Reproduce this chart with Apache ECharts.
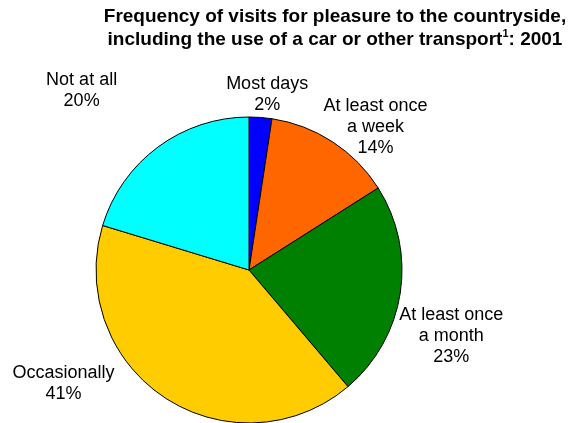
<!DOCTYPE html>
<html>
<head>
<meta charset="utf-8">
<title>Countryside visits 2001</title>
<script src="https://cdn.jsdelivr.net/npm/echarts@6/dist/echarts.min.js"></script>
<style>
	html,body{margin:0;padding:0;background:#fff;}
	#chart{width:580px;height:423px;}
</style>
</head>
<body>
<div id="chart"></div>
<script>
// slices clockwise from 12 o'clock
var categories = ['Most days', 'At least once\na week', 'At least once\na month', 'Occasionally', 'Not at all'];
var percents = [2.4, 13.6, 22.8, 40.9, 20.3];
var colours = ['#0000ff', '#ff6600', '#008000', '#ffcc00', '#00ffff'];

// nudges of each label from where echarts puts it (Excel style placement)
var labelShift = [[-40, -15], [-47, -37], [-9, 42], [-41, -17], [-31, -50]];

var myChart = echarts.init(document.getElementById('chart'));

var pieData = [];
for (var i = 0; i < categories.length; i++) {
	pieData.push({name: categories[i], value: percents[i], itemStyle: {color: colours[i]}});
}

var option = {
	animation: false,
	title: {
		text: '{t|Frequency of visits for pleasure to the countryside,}\n{t|including the use of a car or other transport}{s|1}{t|: 2001}',
		left: 335,
		top: 5,
		padding: 0,
		textAlign: 'center',
		textStyle: {
			rich: {
				t: {fontFamily: 'Liberation Sans, Arial', fontWeight: 'bold', fontSize: 19, lineHeight: 23, color: '#000'},
				s: {fontFamily: 'Liberation Sans, Arial', fontWeight: 'bold', fontSize: 11, lineHeight: 23, verticalAlign: 'top', padding: [0, 0, 9, 0], color: '#000'}
			}
		}
	},
	series: [{
		type: 'pie',
		center: [249, 270],
		radius: 153,
		startAngle: 90,
		clockwise: true,
		data: pieData,
		itemStyle: {borderColor: '#000', borderWidth: 1},
		label: {
			show: true,
			position: 'outside',
			formatter: function (p) { return p.name + '\n' + Math.round(p.value) + '%'; },
			fontFamily: 'Liberation Sans, Arial',
			fontSize: 18,
			lineHeight: 21,
			color: '#000'
		},
		labelLine: {show: false, length: 8, length2: 0},
		labelLayout: function (params) {
			var r = params.labelRect;
			var s = labelShift[params.dataIndex];
			return {x: r.x + r.width / 2 + s[0], y: r.y + r.height / 2 + s[1], align: 'center', verticalAlign: 'middle'};
		},
		emphasis: {disabled: true}
	}]
};

myChart.setOption(option);
</script>
</body>
</html>
